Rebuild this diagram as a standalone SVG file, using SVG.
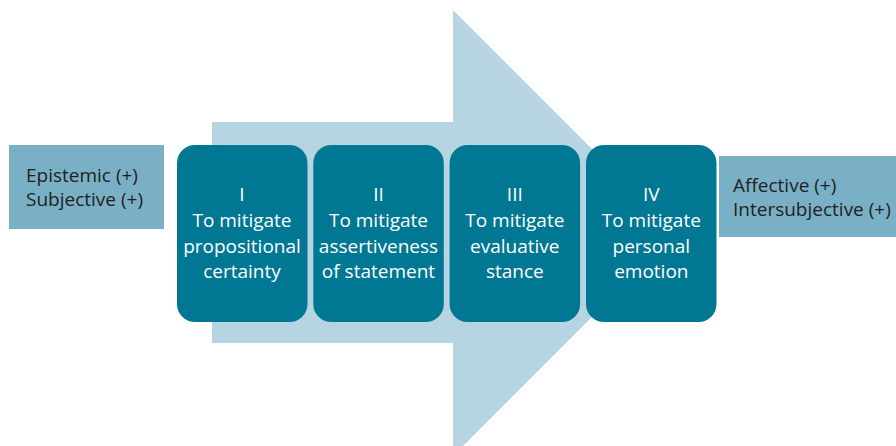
<svg xmlns="http://www.w3.org/2000/svg" width="896" height="446" viewBox="0 0 896 446">
<style>
.side{fill:#79b0c5}
.step{fill:#007894}
.st{font-family:"Open Sans","Liberation Sans",sans-serif;font-size:19px;fill:#ffffff;text-anchor:middle}
.sd{font-family:"Open Sans","Liberation Sans",sans-serif;font-size:19px;fill:#231f20}
</style>
<rect width="896" height="446" fill="#ffffff"/>
<g id="arrow">
<polygon points="212,122 453,122 453,10 676,233 453,456 453,343 212,343" fill="#b6d4e1"/>
</g>
<g id="left">
<rect class="side" x="9" y="145" width="155" height="84"/>
<text class="sd" x="26" y="182">Epistemic (+)</text>
<text class="sd" x="26" y="206">Subjective (+)</text>
</g>
<g id="right">
<rect class="side" x="719" y="156" width="177" height="81"/>
<text class="sd" x="733" y="192">Affective (+)</text>
<text class="sd" x="733" y="216">Intersubjective (+)</text>
</g>
<g id="step1">
<rect class="step" x="177" y="145" width="130.5" height="177" rx="18"/>
<text class="st" x="242" y="201">I</text>
<text class="st" x="242" y="227">To mitigate</text>
<text class="st" x="242" y="253">propositional</text>
<text class="st" x="242" y="278">certainty</text>
</g>
<g id="step2">
<rect class="step" x="313.3" y="145" width="130.5" height="177" rx="18"/>
<text class="st" x="378.5" y="201">II</text>
<text class="st" x="378.5" y="227">To mitigate</text>
<text class="st" x="378.5" y="253">assertiveness</text>
<text class="st" x="378.5" y="278">of statement</text>
</g>
<g id="step3">
<rect class="step" x="449.6" y="145" width="130.5" height="177" rx="18"/>
<text class="st" x="514.8" y="201">III</text>
<text class="st" x="514.8" y="227">To mitigate</text>
<text class="st" x="514.8" y="253">evaluative</text>
<text class="st" x="514.8" y="278">stance</text>
</g>
<g id="step4">
<rect class="step" x="586" y="145" width="130.5" height="177" rx="18"/>
<text class="st" x="651.3" y="201">IV</text>
<text class="st" x="651.3" y="227">To mitigate</text>
<text class="st" x="651.3" y="253">personal</text>
<text class="st" x="651.3" y="278">emotion</text>
</g>
<g id="connectors"></g>
</svg>
